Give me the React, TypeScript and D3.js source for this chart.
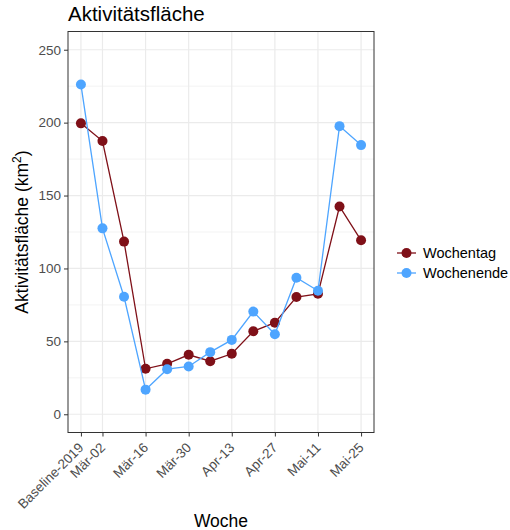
import React, { useRef, useEffect } from 'react';
import * as d3 from 'd3';

// Wochen (Kategorien der x-Achse)
const weeks = [
  'Baseline-2019', 'Mär-02', 'Mär-09', 'Mär-16', 'Mär-23', 'Mär-30', 'Apr-06',
  'Apr-13', 'Apr-20', 'Apr-27', 'Mai-04', 'Mai-11', 'Mai-18', 'Mai-25',
];
// Beschriftete Wochen
const labelledWeeks = ['Baseline-2019', 'Mär-02', 'Mär-16', 'Mär-30', 'Apr-13', 'Apr-27', 'Mai-11', 'Mai-25'];

const wochentag = [199.5, 187.4, 118.4, 31.2, 34.6, 40.8, 36.4, 41.5, 56.9, 62.8, 80.4, 82.6, 142.5, 119.3];
const wochenende = [226.1, 127.5, 80.6, 16.9, 30.9, 32.8, 42.6, 51.0, 70.4, 54.9, 93.6, 84.7, 197.6, 184.6];

const yTicks = [0, 50, 100, 150, 200, 250];
const yMinor = [25, 75, 125, 175, 225];

const series = [
  { name: 'Wochentag', values: wochentag, color: '#7f1018' },
  { name: 'Wochenende', values: wochenende, color: '#4ea5ff' },
];

const width = 510;
const height = 530;
const font = '"Liberation Sans", Arial, sans-serif';

const App = () => {
  const ref = useRef<SVGSVGElement>(null);

  useEffect(() => {
    const svg = d3.select(ref.current);
    svg.selectAll('*').remove();

    const left = 68, right = 374, top = 31.5, bottom = 432.5;

    const x = d3.scaleLinear().domain([-0.6, weeks.length - 1 + 0.6]).range([left, right]);
    const y = d3.scaleLinear().domain([-12.5, 262.5]).range([bottom, top]);

    // panel background
    svg.append('rect')
      .attr('x', left).attr('y', top)
      .attr('width', right - left).attr('height', bottom - top)
      .attr('fill', '#fff');

    // grid
    const grid = svg.append('g');
    yMinor.forEach(v => {
      grid.append('line')
        .attr('x1', left).attr('x2', right)
        .attr('y1', y(v)).attr('y2', y(v))
        .attr('stroke', '#ebebeb').attr('stroke-width', 0.6);
    });
    yTicks.forEach(v => {
      grid.append('line')
        .attr('x1', left).attr('x2', right)
        .attr('y1', y(v)).attr('y2', y(v))
        .attr('stroke', '#ebebeb').attr('stroke-width', 1.2);
    });
    labelledWeeks.forEach(w => {
      const xv = x(weeks.indexOf(w));
      grid.append('line')
        .attr('x1', xv).attr('x2', xv)
        .attr('y1', top).attr('y2', bottom)
        .attr('stroke', '#ebebeb').attr('stroke-width', 1.2);
    });

    // lines and points
    series.forEach(s => {
      const line = d3.line<number>()
        .x((_, i) => x(i))
        .y(d => y(d));
      svg.append('path')
        .datum(s.values)
        .attr('fill', 'none')
        .attr('stroke', s.color)
        .attr('stroke-width', 1.3)
        .attr('d', line);
      svg.selectAll(null)
        .data(s.values)
        .enter()
        .append('circle')
        .attr('cx', (_, i) => x(i))
        .attr('cy', d => y(d))
        .attr('r', 5)
        .attr('fill', s.color);
    });

    // panel border
    svg.append('rect')
      .attr('x', left).attr('y', top)
      .attr('width', right - left).attr('height', bottom - top)
      .attr('fill', 'none')
      .attr('stroke', '#333').attr('stroke-width', 1);

    // y axis
    const yAxis = svg.append('g')
      .attr('transform', `translate(${left},0)`)
      .call(d3.axisLeft(y).tickValues(yTicks).tickSize(4).tickPadding(3));
    yAxis.select('.domain').remove();
    yAxis.selectAll('line').attr('stroke', '#333');
    yAxis.selectAll('text')
      .attr('font-family', font).attr('font-size', 13.5).attr('fill', '#4d4d4d');

    // x axis
    const xAxis = svg.append('g')
      .attr('transform', `translate(0,${bottom})`)
      .call(d3.axisBottom(x)
        .tickValues(labelledWeeks.map(w => weeks.indexOf(w)))
        .tickFormat(i => weeks[i as number])
        .tickSize(4));
    xAxis.select('.domain').remove();
    xAxis.selectAll('line').attr('stroke', '#333');
    xAxis.selectAll('text')
      .attr('font-family', font).attr('font-size', 13.5).attr('fill', '#4d4d4d')
      .attr('text-anchor', 'end')
      .attr('dy', null)
      .attr('y', 0)
      .attr('transform', 'translate(3,16) rotate(-45)');

    // title
    svg.append('text')
      .attr('x', left).attr('y', 21)
      .attr('font-family', font).attr('font-size', 20.5).attr('fill', '#000')
      .text('Aktivitätsfläche');

    // axis titles
    svg.append('text')
      .attr('x', (left + right) / 2).attr('y', 527)
      .attr('text-anchor', 'middle')
      .attr('font-family', font).attr('font-size', 17.5).attr('fill', '#000')
      .text('Woche');

    const yt = svg.append('text')
      .attr('transform', `translate(28,${(top + bottom) / 2}) rotate(-90)`)
      .attr('text-anchor', 'middle')
      .attr('font-family', font).attr('font-size', 17.5).attr('fill', '#000');
    yt.append('tspan').text('Aktivitätsfläche (km');
    yt.append('tspan').attr('font-size', 12).attr('dy', -7).text('2');
    yt.append('tspan').attr('dy', 7).text(')');

    // legend
    const legend = svg.append('g').attr('transform', 'translate(397,253)');
    series.forEach((s, i) => {
      const g = legend.append('g').attr('transform', `translate(0,${i * 20})`);
      g.append('line')
        .attr('x1', 0).attr('x2', 19)
        .attr('stroke', s.color).attr('stroke-width', 1.3);
      g.append('circle')
        .attr('cx', 9.5).attr('r', 5).attr('fill', s.color);
      g.append('text')
        .attr('x', 26).attr('y', 5)
        .attr('font-family', font).attr('font-size', 14.5).attr('fill', '#000')
        .text(s.name);
    });
  }, []);

  return (
    <div style={{ position: 'absolute', left: 0, top: 0 }}>
      <svg ref={ref} width={width} height={height} style={{ display: 'block', background: '#fff' }} />
    </div>
  );
};

export default App;
